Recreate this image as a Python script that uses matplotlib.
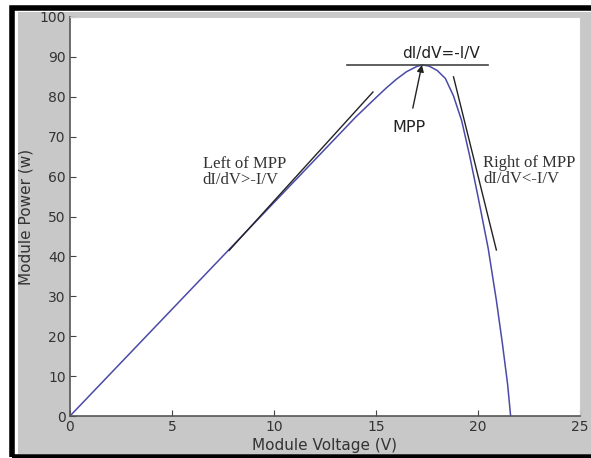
import matplotlib.pyplot as plt
import matplotlib.patches as mpatches
import numpy as np

# P-V curve
voltage = [0, 2, 4, 6, 8, 10, 12, 14, 15, 15.5, 16, 16.5, 17, 17.25, 17.6, 18, 18.4,
           18.8, 19.2, 19.6, 20.0, 20.5, 20.9, 21.2, 21.45, 21.6]
power = [0, 10.7, 21.4, 32.1, 42.8, 53.5, 64.2, 74.9, 79.8, 82.2, 84.4, 86.3, 87.6, 88.0,
         87.7, 86.6, 84.6, 80.2, 74.0, 65.0, 55.0, 42.0, 29.0, 18.0, 8.0, 0]

left_tangent_v = [7.8, 14.85]
left_tangent_p = [41.5, 81.2]
right_tangent_v = [18.8, 20.9]
right_tangent_p = [85.0, 41.6]
mpp_line_v = [13.6, 20.5]
mpp_line_p = [88, 88]
mpp = (17.25, 88)

xticks = [0, 5, 10, 15, 20, 25]
yticks = [0, 10, 20, 30, 40, 50, 60, 70, 80, 90, 100]

fig = plt.figure(figsize=(5.91, 4.58), dpi=100)
fig.patch.set_facecolor('white')

# gray matlab-like frame with black border
fig.patches.append(mpatches.Rectangle((18/591, 1-454/458), 573/591, 442/458,
                                      transform=fig.transFigure, facecolor='#c8c8c8',
                                      edgecolor='none', zorder=-2))
fig.patches.append(mpatches.Rectangle((12/591, 1-457/458), 600/591, 449/458,
                                      transform=fig.transFigure, facecolor='none',
                                      edgecolor='black', linewidth=4, zorder=-1))

ax = fig.add_axes([70/591, 1-416/458, 510/591, 399/458])
ax.set_facecolor('white')

ax.plot(voltage, power, color='#4a4aa8', linewidth=1.1)
ax.plot(left_tangent_v, left_tangent_p, color='#222222', linewidth=1.0)
ax.plot(right_tangent_v, right_tangent_p, color='#222222', linewidth=1.0)
ax.plot(mpp_line_v, mpp_line_p, color='#444444', linewidth=1.2)

ax.annotate('MPP', xy=mpp, xytext=(16.6, 72.2), ha='center', va='center',
            fontsize=11.5, color='#222222',
            arrowprops=dict(arrowstyle='-|>', color='#222222', lw=1.0,
                            mutation_scale=10, shrinkA=7, shrinkB=0))
ax.text(18.2, 90.9, 'dI/dV=-I/V', ha='center', va='center', fontsize=11, color='#222222')
ax.text(6.5, 61.2, 'Left of MPP\ndI/dV>-I/V', ha='left', va='center', fontsize=12,
        family='Liberation Serif', color='#333333', linespacing=1.05)
ax.text(20.25, 61.4, 'Right of MPP\ndI/dV<-I/V', ha='left', va='center', fontsize=12,
        family='Liberation Serif', color='#333333', linespacing=1.05)

ax.set_xlim(0, 25)
ax.set_ylim(0, 100)
ax.set_xticks(xticks)
ax.set_yticks(yticks)
ax.tick_params(direction='in', length=4, colors='#444444', labelsize=10,
               labelcolor='#333333', pad=3)
for side in ['left', 'bottom']:
    ax.spines[side].set_color('#555555')
    ax.spines[side].set_linewidth(1.2)
for side in ['top', 'right']:
    ax.spines[side].set_color('#cccccc')

ax.set_xlabel('Module Voltage (V)', fontsize=11, color='#333333', labelpad=3)
ax.set_ylabel('Module Power (w)', fontsize=11, color='#333333', labelpad=4)

fig.savefig('out.png', dpi=100)
